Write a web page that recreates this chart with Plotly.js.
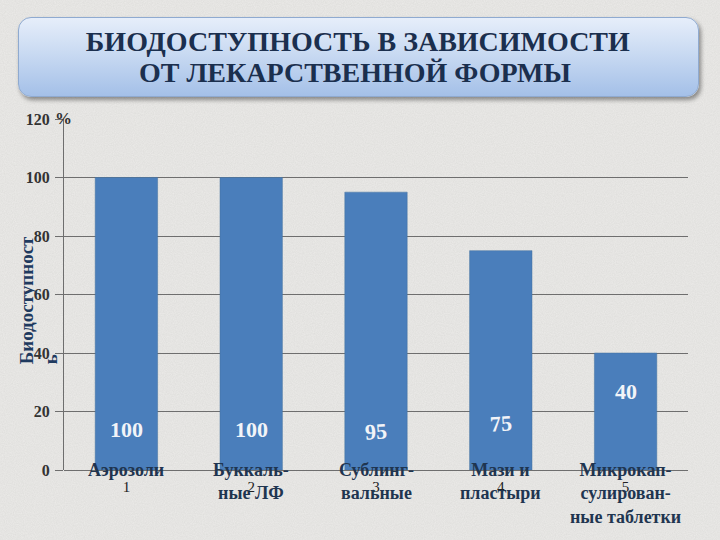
<!DOCTYPE html>
<html><head><meta charset="utf-8">
<script src="https://cdn.plot.ly/plotly-3.0.1.min.js"></script>
<style>
html,body{margin:0;padding:0;width:720px;height:540px;overflow:hidden;}
body{background-color:#e8e8e6;
background-image:url("data:image/svg+xml;utf8,<svg xmlns='http://www.w3.org/2000/svg' width='720' height='540'><filter id='n'><feTurbulence type='fractalNoise' baseFrequency='0.9' numOctaves='2' seed='3'/><feColorMatrix values='0 0 0 0 0.55  0 0 0 0 0.55  0 0 0 0 0.53  0 0 0 0.35 0'/></filter><rect width='100%' height='100%' fill='%23ecebe9'/><rect width='100%' height='100%' filter='url(%23n)'/></svg>");}
#box{position:absolute;left:18px;top:17px;width:679px;height:78px;border-radius:13px;
background:linear-gradient(to bottom,#e6eefa 0%,#c9daf2 45%,#a4c0e8 100%);
border:1px solid #8faad0;box-shadow:2px 3px 4px rgba(0,0,0,0.4);}
#chart{position:absolute;left:0;top:0;width:720px;height:540px;}
</style></head>
<body>
<div id="box"></div>
<div id="chart"></div>
<script>
var titleLines = ["БИОДОСТУПНОСТЬ В ЗАВИСИМОСТИ", "ОТ ЛЕКАРСТВЕННОЙ ФОРМЫ"];
var categories = ["Аэрозоли", "Буккаль-<br>ные ЛФ", "Сублинг-<br>вальные", "Мази и<br>пластыри", "Микрокап-<br>сулирован-<br>ные таблетки"];
var tickLabels = ["1", "2", "3", "4", "5"];
var values = [100, 100, 95, 75, 40];
var valueLabels = ["100", "100", "95", "75", "40"];
var yTicks = [0, 20, 40, 60, 80, 100, 120];

var labelY = [14, 14, 13, 16, 27];
var labelAngle = [0, 0, -4, -4, 0];

var serif = "Liberation Serif";
var annotations = [];
for (var i = 0; i < categories.length; i++) {
  annotations.push({x: i, y: 0, xref: "x", yref: "y", text: "<b>" + categories[i] + "</b>",
    showarrow: false, yanchor: "top", yshift: 12, font: {family: serif, size: 18, color: "#1f3550"}});
  annotations.push({x: i, y: labelY[i], xref: "x", yref: "y", text: "<b>" + valueLabels[i] + "</b>",
    showarrow: false, textangle: labelAngle[i], font: {family: serif, size: 22, color: "#f2f4f8"}});
}
annotations.push({xref: "paper", yref: "y", x: 0, y: 58, xshift: -50, text: "<b>Биодоступност<br>ь</b>",
  textangle: -90, align: "left", showarrow: false, font: {family: serif, size: 19, color: "#1f3a5f"}});
annotations.push({xref: "paper", yref: "y", x: 0, y: 120, xshift: -11, yshift: 1, text: "<b>%</b>",
  showarrow: false, xanchor: "left", font: {family: serif, size: 17, color: "#333"}});
annotations.push({xref: "paper", yref: "paper", x: (355 - 64) / 624, y: (470 - 72) / 351, yanchor: "middle",
  text: "<b>" + titleLines[1] + "</b>", showarrow: false, font: {family: serif, size: 28, color: "#1b2f4e"}});

var trace = {type: "bar", x: tickLabels, y: values, width: 0.5,
  marker: {color: "#4a7ebb", line: {color: "#44729f", width: 0.5}}, hoverinfo: "none"};

var layout = {
  width: 720, height: 540,
  paper_bgcolor: "rgba(0,0,0,0)", plot_bgcolor: "rgba(0,0,0,0)",
  margin: {l: 64, r: 32, t: 119, b: 70},
  title: {text: "<b>" + titleLines[0] + "</b>", x: 0.497, xanchor: "center",
    yref: "container", y: 1 - 41 / 540, yanchor: "middle",
    font: {family: serif, size: 28, color: "#1b2f4e"}},
  showlegend: false,
  bargap: 0.5,
  xaxis: {type: "category", range: [-0.5, 4.5], tickvals: tickLabels, ticktext: tickLabels, showgrid: false, showline: false,
    zeroline: false, ticks: "", ticklabelstandoff: 6, tickfont: {family: serif, size: 15, color: "#222"}},
  yaxis: {range: [0, 120], tickvals: yTicks, showgrid: true, gridcolor: "#6e6e6e", gridwidth: 1,
    showline: true, linecolor: "#6e6e6e", linewidth: 1, zeroline: true, zerolinecolor: "#6e6e6e",
    ticks: "outside", ticklen: 8, tickcolor: "#6e6e6e", ticklabelstandoff: 2,
    tickfont: {family: serif, size: 16, color: "#333", weight: "bold"}},
  annotations: annotations
};
Plotly.newPlot("chart", [trace], layout, {displayModeBar: false, staticPlot: true});
</script>
</body></html>
